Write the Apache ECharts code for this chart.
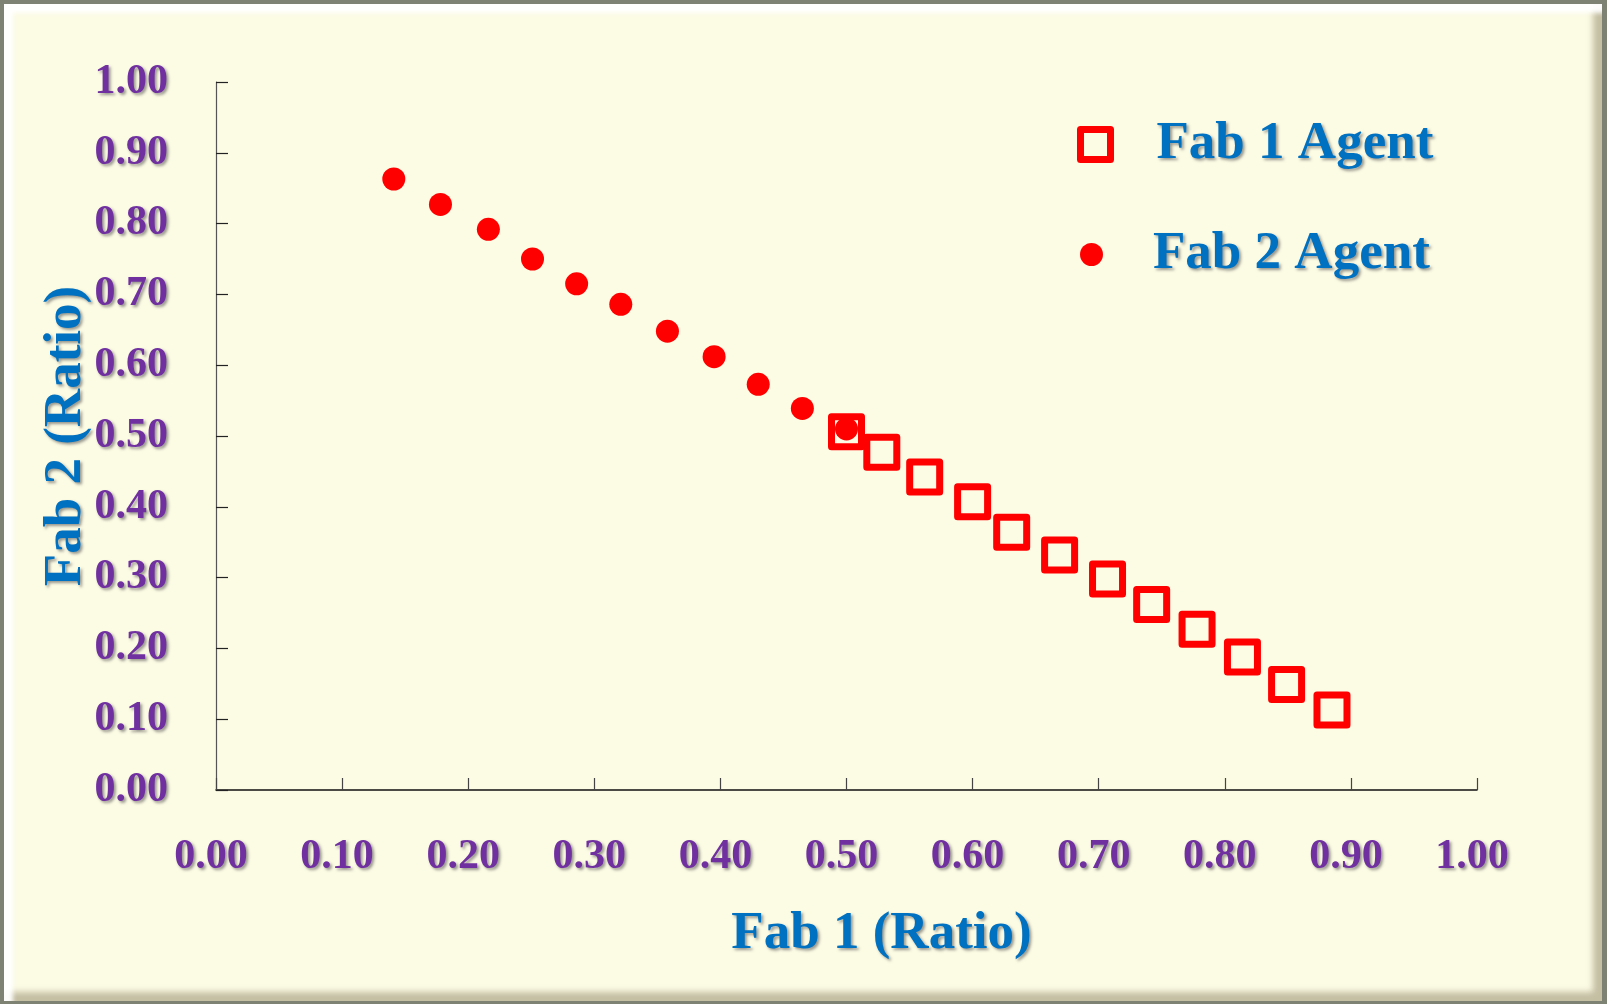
<!DOCTYPE html>
<html>
<head>
<meta charset="utf-8">
<title>Fab 1 vs Fab 2 Ratio</title>
<script src="https://cdn.jsdelivr.net/npm/echarts@6/dist/echarts.min.js"></script>
<style>
  html, body { margin: 0; padding: 0; background: #7d8273; }
  #frame {
    position: absolute; left: 0; top: 0; width: 1607px; height: 1004px;
    background: #7d8273; overflow: hidden;
  }
  #paper {
    position: absolute; left: 4px; top: 4px; right: 5px; bottom: 3px;
    background: #fcfbe4;
    box-shadow:
      inset 9px 9px 4px rgba(255,255,255,0.95),
      inset -9px -9px 6px rgba(150,140,110,0.55);
  }
  #chart { position: absolute; left: 0; top: 0; width: 1607px; height: 1004px; }
</style>
</head>
<body>
<div id="frame">
  <div id="paper"></div>
  <div id="chart"></div>
</div>
<script>
// Fab 1 agent allocations (squares)
const fab1X = [0.500, 0.528, 0.562, 0.600, 0.631, 0.669, 0.707, 0.742, 0.778, 0.814, 0.849, 0.885];
const fab1Y = [0.506, 0.477, 0.442, 0.407, 0.364, 0.332, 0.298, 0.262, 0.227, 0.188, 0.149, 0.113];
// Fab 2 agent allocations (dots)
const fab2X = [0.141, 0.178, 0.216, 0.251, 0.286, 0.321, 0.358, 0.395, 0.430, 0.465, 0.500];
const fab2Y = [0.863, 0.827, 0.792, 0.750, 0.715, 0.686, 0.648, 0.612, 0.573, 0.539, 0.510];

const seriesNames = ['Fab 1 Agent', 'Fab 2 Agent'];
const xTitle = 'Fab 1 (Ratio)';
const yTitle = 'Fab 2 (Ratio)';

const pair = (xs, ys) => xs.map((x, i) => [x, ys[i]]);

const RED = '#ff0000';
const PURPLE = '#7030a0';
const BLUE = '#0070c0';
const SERIF = '"Liberation Serif", "Times New Roman", serif';

const tickText = {
  color: PURPLE, fontFamily: SERIF, fontWeight: 'bold', fontSize: 42,
  textShadowColor: 'rgba(70,70,70,0.55)', textShadowBlur: 3,
  textShadowOffsetX: 2, textShadowOffsetY: 2
};
const titleText = {
  color: BLUE, fontFamily: SERIF, fontWeight: 'bold', fontSize: 53,
  textShadowColor: 'rgba(70,70,70,0.55)', textShadowBlur: 3,
  textShadowOffsetX: 2, textShadowOffsetY: 2
};

const squareStyle = { color: 'rgba(0,0,0,0)', borderColor: RED, borderWidth: 7, borderJoin: 'round', opacity: 1 };
const dotStyle = { color: RED, borderWidth: 0, opacity: 1 };

const chart = echarts.init(document.getElementById('chart'), null, { renderer: 'canvas' });
chart.setOption({
  backgroundColor: 'transparent',
  animation: false,
  grid: { left: 216, right: 130, top: 82, bottom: 214 },
  xAxis: {
    type: 'value', min: 0, max: 1, interval: 0.1,
    name: xTitle, nameLocation: 'middle', nameGap: 118, nameMoveOverlap: false,
    nameTextStyle: Object.assign({ padding: [0, 0, 0, 70] }, titleText),
    axisLine: { show: true, lineStyle: { color: '#111', width: 1.5 } },
    axisTick: { show: true, inside: true, length: 12, lineStyle: { color: '#444', width: 1.2 } },
    axisLabel: Object.assign({ margin: 46, padding: [0, 10, 0, 0], formatter: v => v.toFixed(2) }, tickText),
    splitLine: { show: false }
  },
  yAxis: {
    type: 'value', min: 0, max: 1, interval: 0.1,
    name: yTitle, nameLocation: 'middle', nameGap: 123, nameMoveOverlap: false,
    nameTextStyle: titleText,
    axisLine: { show: true, lineStyle: { color: '#555', width: 1.2 } },
    axisTick: { show: true, inside: true, length: 12, lineStyle: { color: '#222', width: 1.2 } },
    axisLabel: Object.assign({ margin: 48, formatter: v => v.toFixed(2) }, tickText),
    splitLine: { show: false }
  },
  legend: [
    {
      left: 1077, top: 118, padding: 0, orient: 'vertical',
      itemWidth: 30, itemHeight: 30, itemGap: 0,
      textStyle: Object.assign({ padding: [0, 0, 0, 41] }, titleText),
      data: [{ name: seriesNames[0], icon: 'rect', itemStyle: squareStyle }]
    },
    {
      left: 1080, top: 228, padding: 0, orient: 'vertical',
      itemWidth: 23, itemHeight: 23, itemGap: 0,
      textStyle: Object.assign({ padding: [0, 0, 0, 45] }, titleText),
      data: [{ name: seriesNames[1], icon: 'circle', itemStyle: dotStyle }]
    }
  ],
  series: [
    {
      name: seriesNames[1], type: 'scatter', symbol: 'circle', symbolSize: 23,
      itemStyle: dotStyle, data: pair(fab2X, fab2Y), z: 2
    },
    {
      name: seriesNames[0], type: 'scatter', symbol: 'rect', symbolSize: 30,
      itemStyle: squareStyle, data: pair(fab1X, fab1Y), z: 3
    }
  ]
});
</script>
</body>
</html>
